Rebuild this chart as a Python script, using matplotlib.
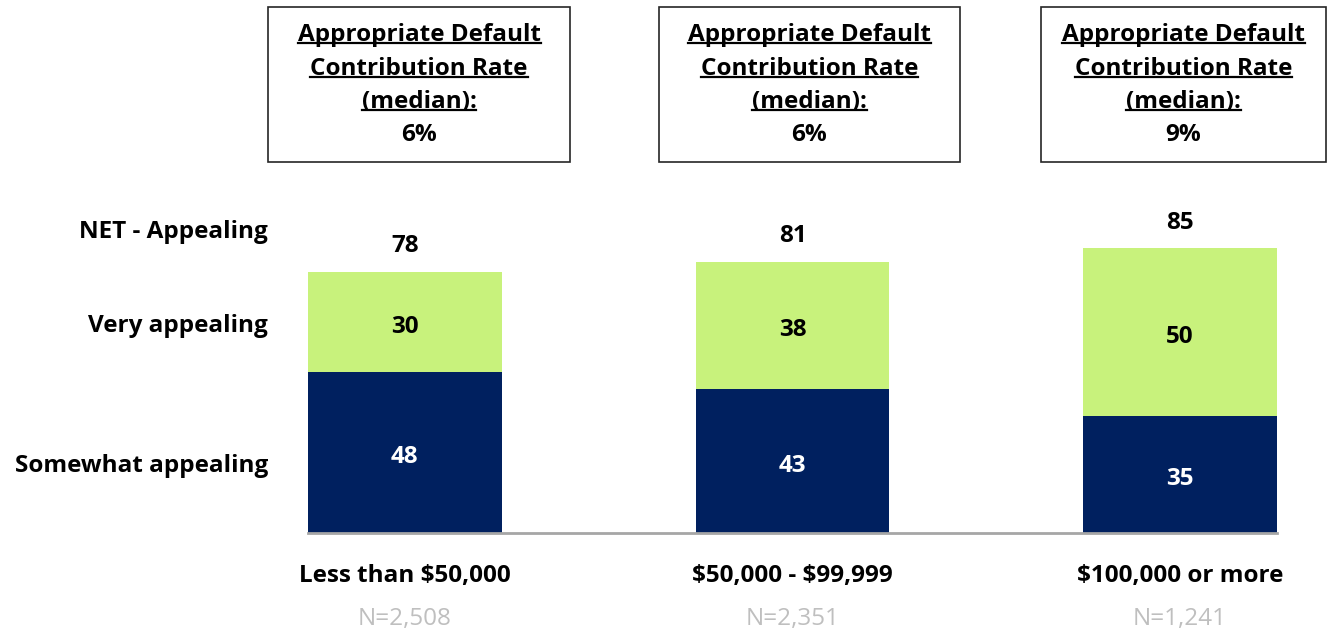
import numpy as np
import matplotlib.pyplot as plt
from matplotlib.patches import Rectangle

plt.rcParams['font.family'] = ['Open Sans', 'DejaVu Sans']
plt.rcParams['text.parse_math'] = False

categories = ["Less than $50,000", "$50,000 - $99,999", "$100,000 or more"]
sample_sizes = ["N=2,508", "N=2,351", "N=1,241"]
somewhat = [48, 43, 35]
very = [30, 38, 50]
net = [78, 81, 85]
median_rate = ["6%", "6%", "9%"]
row_labels = ["NET - Appealing", "Very appealing", "Somewhat appealing"]

NAVY = "#00205F"
GREEN = "#C8F27C"

W, H = 1327, 629


def fx(px):
    return px / W


def fy(py):
    return 1 - py / H


fig = plt.figure(figsize=(W / 100, H / 100), dpi=100)
ax = fig.add_axes([fx(308), fy(533), fx(1277) - fx(308), fy(198) - fy(533)])

x = np.arange(len(categories))
ax.bar(x, somewhat, width=0.5, color=NAVY)
ax.bar(x, very, width=0.5, bottom=somewhat, color=GREEN)
ax.set_xlim(-0.25, 2.25)
ax.set_ylim(0, 100)

for s in ["top", "right", "left"]:
    ax.spines[s].set_visible(False)
ax.spines["bottom"].set_color("#A6A6A6")
ax.spines["bottom"].set_linewidth(2)
ax.set_yticks([])
ax.set_xticks([])

fs = 17.5
lbl = dict(textcoords="offset points", ha="center", va="center", fontsize=fs,
           fontweight="bold")
for i in range(len(categories)):
    ax.annotate(str(somewhat[i]), (x[i], somewhat[i] / 2), xytext=(0, -3.5),
                color="white", **lbl)
    ax.annotate(str(very[i]), (x[i], somewhat[i] + very[i] / 2), xytext=(0, -3.5),
                color="black", **lbl)
    ax.annotate(str(net[i]), (x[i], net[i] + 8.5), xytext=(0, -2),
                color="black", **lbl)
    ax.annotate(categories[i], (x[i], 0), xytext=(0, -31), **lbl)
    ax.annotate(sample_sizes[i], (x[i], 0), xytext=(0, -62), textcoords="offset points",
                ha="center", va="center", fontsize=fs, color="#BFBFBF")

# row labels on the left
for lab, py in zip(row_labels, [232, 326, 466]):
    fig.text(fx(268), fy(py), lab, ha="right", va="center", fontsize=fs,
             fontweight="bold")

# boxes with median default contribution rate
boxes = [(268, 570), (659, 960), (1041, 1326)]
header = ["Appropriate Default", "Contribution Rate", "(median):"]
texts_to_underline = []
for (x0, x1), rate in zip(boxes, median_rate):
    fig.patches.append(Rectangle((fx(x0), fy(162)), fx(x1) - fx(x0), fy(7) - fy(162),
                                 transform=fig.transFigure, fill=False,
                                 edgecolor="#262626", linewidth=1.2))
    cx = fx((x0 + x1) / 2)
    for line, py in zip(header, [35, 69, 102]):
        t = fig.text(cx, fy(py), line, ha="center", va="center", fontsize=fs,
                     fontweight="bold")
        texts_to_underline.append(t)
    fig.text(cx, fy(135), rate, ha="center", va="center", fontsize=fs,
             fontweight="bold")

fig.canvas.draw()
renderer = fig.canvas.get_renderer()
inv = fig.transFigure.inverted()
for t in texts_to_underline:
    bb = t.get_window_extent(renderer)
    (x0, y0), (x1, y1) = inv.transform([[bb.x0, bb.y0], [bb.x1, bb.y1]])
    yline = y0 + 0.007
    fig.add_artist(plt.Line2D([x0, x1], [yline, yline], transform=fig.transFigure,
                              color="black", linewidth=1.6))

fig.savefig("out.png", dpi=100)
